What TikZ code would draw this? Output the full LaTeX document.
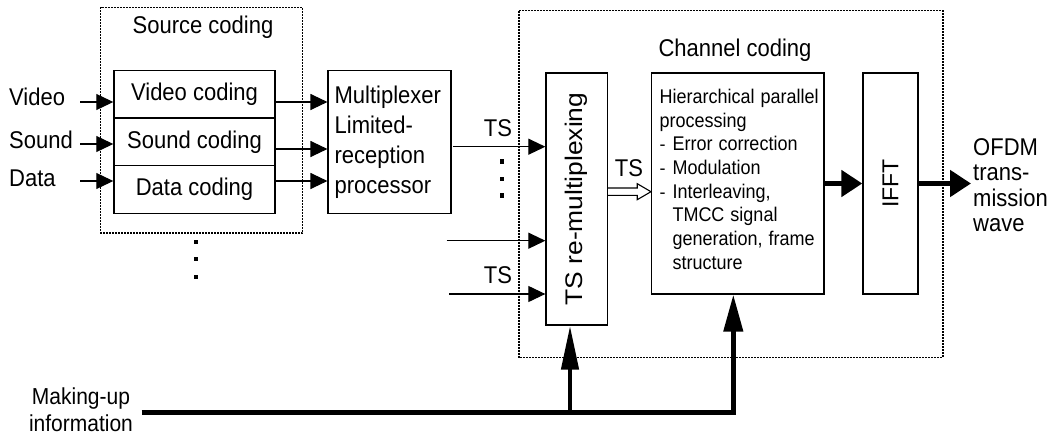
\documentclass[tikz,border=0pt]{standalone}
\usepackage{fontspec}
\setmainfont{Liberation Sans}
\usepackage{graphicx}
\usetikzlibrary{arrows.meta,calc}
\newcommand{\tall}[1]{\scalebox{1}[1.1]{#1}}
\begin{document}
\begin{tikzpicture}[x=1pt,y=-1pt,
  box/.style={draw, line width=1.4pt, inner sep=0pt},
  frame/.style={draw, line width=1.4pt, dash pattern=on 2pt off 1pt},
  thinarr/.style={line width=1.1pt, -{Triangle[length=17pt,width=16pt]}},
  thickarr/.style={line width=5pt, -{Triangle[length=21pt,width=26pt]}},
  uparrA/.style={line width=4.5pt, line join=miter, -{Triangle[length=44pt,width=17pt]}},
  uparrB/.style={line width=4.5pt, line join=miter, -{Triangle[length=37pt,width=19pt]}},
  lbl/.style={inner sep=0pt, font=\fontsize{22}{26}\selectfont},
  dot/.style={fill=black},
]
\useasboundingbox (0,0) rectangle (1051,439);

% group frames
\draw[frame] (100.7,7.3) rectangle (302.7,233);
\draw[frame] (519,10.7) rectangle (943,357.3);

% titles
\node[lbl, anchor=base] (srct) at (203,33.3) {\tall{Source coding}};
\node[lbl, anchor=base] (chnt) at (735,56.7) {\tall{Channel coding}};

% source coding boxes
\node[box, lbl, minimum width=161pt, minimum height=47.3pt] (vid) at (194.5,94.35) {\tall{Video coding}};
\node[box, lbl, minimum width=161pt, minimum height=47.7pt] (snd) at (194.5,141.9) {\tall{Sound coding}};
\node[box, lbl, minimum width=161pt, minimum height=47.6pt] (dat) at (194.5,189.5) {\tall{Data coding}};

% multiplexer
\node[box, font=\fontsize{22}{30}\selectfont, minimum width=122.7pt, minimum height=142.6pt,
      text width=109.7pt, inner xsep=6.5pt, inner ysep=0pt, align=left] (mux) at (389.5,142)
      {\tall{Multiplexer}\\\tall{Limited-}\\\tall{reception}\\\tall{processor}};

% channel coding blocks
\node[box, minimum width=61.3pt, minimum height=252pt, font=\fontsize{24}{28}\selectfont] (remux) at (576.7,199)
      {\rotatebox{90}{\scalebox{1.1}[1]{TS re-multiplexing}}};
\node[box, minimum width=172.3pt, minimum height=221pt] (hier) at (737.8,183.5) {};
\node[inner sep=0pt, anchor=base west, text width=164pt, align=left, font=\fontsize{18}{23.7}\selectfont] (hiert) at (659.3,103.3)
      {\tall{Hierarchical parallel}\\\tall{processing}\\\makebox[13pt][l]{-}\tall{Error correction}\\\makebox[13pt][l]{-}\tall{Modulation}\\\makebox[13pt][l]{-}\tall{Interleaving,}\\\hspace*{13pt}\tall{TMCC signal}\\\hspace*{13pt}\tall{generation, frame}\\\hspace*{13pt}\tall{structure}};
\node[box, minimum width=55pt, minimum height=221pt, font=\fontsize{23}{28}\selectfont] (ifft) at (890.5,183.5)
      {\rotatebox{90}{IFFT}};

% labels
\node[lbl, anchor=base west] (lvid) at (9,105) {\tall{Video}};
\node[lbl, anchor=base west] (lsnd) at (9,148.3) {\tall{Sound}};
\node[lbl, anchor=base west] (ldat) at (9,186.7) {\tall{Data}};
\node[lbl, anchor=base] (ts1l) at (498,136.7) {\tall{TS}};
\node[lbl, anchor=base] (ts2l) at (629,176.7) {\tall{TS}};
\node[lbl, anchor=base] (ts3l) at (498,283.3) {\tall{TS}};
\node[inner sep=0pt, anchor=base west, text width=80pt, align=left, font=\fontsize{22}{25.5}\selectfont] (ofdm) at (973,155)
      {\tall{OFDM}\\\tall{trans-}\\\tall{mission}\\\tall{wave}};
\node[inner sep=0pt, anchor=base, text width=130pt, align=center, font=\fontsize{21}{27.7}\selectfont] (mkl) at (81,404)
      {\tall{Making-up}\\\tall{information}};

% vertical ellipses
\fill[dot] (193.7,239.7) rectangle ++(4,4.6);
\fill[dot] (193.7,256.7) rectangle ++(4,4.6);
\fill[dot] (193.7,274.7) rectangle ++(4,4.6);
\fill[dot] (499.7,159.4) rectangle ++(4,4.6);
\fill[dot] (499.7,176.7) rectangle ++(4,4.6);
\fill[dot] (499.7,193.4) rectangle ++(4,4.6);

% inputs to source coding
\coordinate (vin) at (80,102);
\coordinate (sin) at (80,144);
\coordinate (din) at (80,181);
\draw[thinarr] (vin) -- (vin -| vid.west);
\draw[thinarr] (sin) -- (sin -| snd.west);
\draw[thinarr] (din) -- (din -| dat.west);

% source coding to multiplexer
\coordinate (o1) at (300,102);
\coordinate (o2) at (300,149);
\coordinate (o3) at (300,181);
\draw[thinarr] (vid.east |- o1) -- (mux.west |- o1);
\draw[thinarr] (snd.east |- o2) -- (mux.west |- o2);
\draw[thinarr] (dat.east |- o3) -- (mux.west |- o3);

% TS inputs to re-multiplexing
\coordinate (t1) at (453,146.7);
\coordinate (t2) at (446.7,240.7);
\coordinate (t3) at (449,294);
\draw[thinarr] (t1) -- (t1 -| remux.west);
\draw[thinarr] (t2) -- (t2 -| remux.west);
\draw[thinarr] (t3) -- (t3 -| remux.west);

% hollow TS arrow
\path (remux.east) ++(0,-7.3) coordinate (ha);
\path (hier.west) ++(0,8.2) coordinate (hb);
\draw[line width=1.1pt, line join=miter, fill=white] ($(ha)+(0,-3.7)$) -- ($(hb)+(-13.7,-3.7)$) -- ($(hb)+(-13.7,-8)$) -- (hb)
      -- ($(hb)+(-13.7,8)$) -- ($(hb)+(-13.7,3.7)$) -- ($(ha)+(0,3.7)$);

% thick arrows
\coordinate (out) at (971,183.5);
\draw[thickarr] (hier.east) -- (ifft.west);
\draw[thickarr] (ifft.east) -- (out);

% making-up information
\coordinate (mk0) at (141.7,412.3);
\coordinate (mk1) at (733.3,412.3);
\coordinate (mk2) at (570,412.3);
\draw[uparrB] (mk0) -- (mk1) -- (mk1 |- hier.south);
\draw[uparrA] (mk2) -- (mk2 |- remux.south);
\end{tikzpicture}
\end{document}
